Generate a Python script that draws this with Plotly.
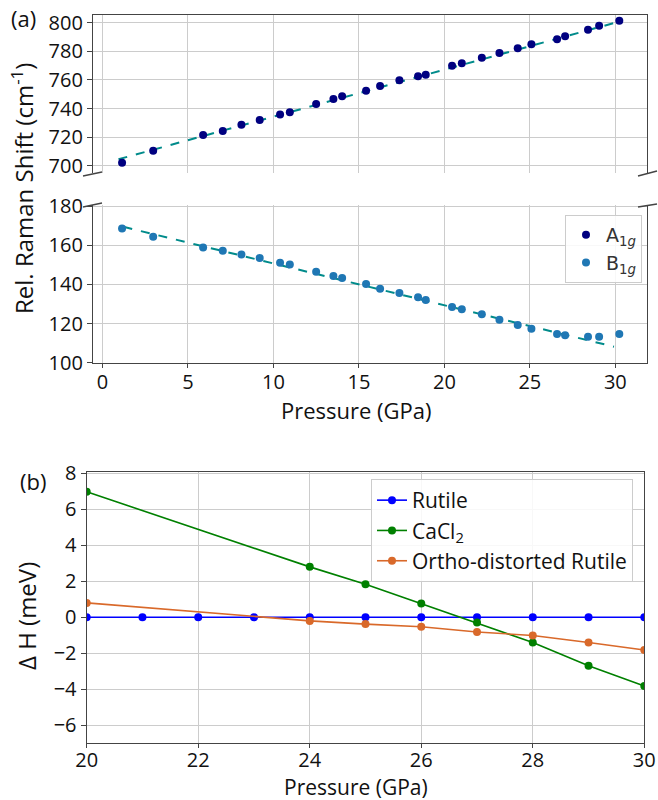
import plotly.graph_objects as go

# ---------------- data: panel (a) ----------------
pressure_a = [1.15, 2.97, 5.89, 7.04, 8.13, 9.2, 10.39, 10.96, 12.5, 13.51, 14.02,
              15.42, 16.24, 17.37, 18.46, 18.91, 20.45, 21.02, 22.19, 23.22, 24.29,
              25.09, 26.59, 27.06, 28.4, 29.05, 30.23]
a1g = [702.1, 710.5, 721.5, 724.3, 728.7, 732.0, 735.9, 737.3, 743.1, 746.6, 748.5,
       752.4, 755.7, 759.7, 762.5, 763.6, 769.9, 771.6, 775.5, 778.8, 782.1,
       784.9, 788.4, 790.5, 795.1, 797.9, 801.4]
b1g = [168.6, 164.3, 158.9, 157.2, 155.3, 153.5, 151.1, 150.1, 146.5, 144.3, 143.3,
       140.2, 137.8, 135.6, 133.4, 132.0, 128.5, 127.3, 124.7, 122.0, 119.3,
       117.4, 114.7, 114.0, 113.3, 113.3, 114.7]
fit_a_x = [0.94, 30.3]
fit_a_y = [704.5, 801.0]
fit_b_x = [1.23, 29.92]
fit_b_y = [169.4, 108.2]

# ---------------- data: panel (b) ----------------
pressure_rutile = [20, 21, 22, 23, 24, 25, 26, 27, 28, 29, 30]
rutile = [0, 0, 0, 0, 0, 0, 0, 0, 0, 0, 0]
pressure_b = [20, 24, 25, 26, 27, 28, 29, 30]
cacl2 = [6.97, 2.8, 1.84, 0.76, -0.29, -1.4, -2.69, -3.82]
ortho = [0.8, -0.2, -0.38, -0.53, -0.82, -1.01, -1.4, -1.82]

W, H = 658, 800
FONT = "Open Sans"
AX = "#444444"
GRID = "#cccccc"


def px(x):
    return x / W


def py(y):
    return 1 - y / H


fig = go.Figure()

# panel (a) top: A1g
fig.add_trace(go.Scatter(x=fit_a_x, y=fit_a_y, mode="lines",
                         line=dict(color="#008b8b", width=2, dash="dash"),
                         showlegend=False, xaxis="x", yaxis="y"))
fig.add_trace(go.Scatter(x=pressure_a, y=a1g, mode="markers", name="A<sub>1<i>g</i></sub>",
                         marker=dict(color="#000080", size=8),
                         xaxis="x", yaxis="y", legend="legend"))
# panel (a) bottom: B1g
fig.add_trace(go.Scatter(x=fit_b_x, y=fit_b_y, mode="lines",
                         line=dict(color="#008b8b", width=2, dash="dash"),
                         showlegend=False, xaxis="x2", yaxis="y2"))
fig.add_trace(go.Scatter(x=pressure_a, y=b1g, mode="markers", name="B<sub>1<i>g</i></sub>",
                         marker=dict(color="#1f77b4", size=8),
                         xaxis="x2", yaxis="y2", legend="legend"))

# panel (b)
fig.add_trace(go.Scatter(x=pressure_rutile, y=rutile, mode="lines+markers", name="Rutile",
                         line=dict(color="#0000ff", width=1.6), marker=dict(size=8),
                         xaxis="x3", yaxis="y3", legend="legend2"))
fig.add_trace(go.Scatter(x=pressure_b, y=cacl2, mode="lines+markers", name="CaCl<sub>2</sub>",
                         line=dict(color="#008000", width=1.6), marker=dict(size=8),
                         xaxis="x3", yaxis="y3", legend="legend2"))
fig.add_trace(go.Scatter(x=pressure_b, y=ortho, mode="lines+markers", name="Ortho-distorted Rutile",
                         line=dict(color="#d9692a", width=1.6), marker=dict(size=8),
                         xaxis="x3", yaxis="y3", legend="legend2"))

tickfont = dict(family=FONT, size=20, color="#111111")

common = dict(showgrid=True, gridcolor=GRID, gridwidth=1, zeroline=False, automargin=False,
              linecolor=AX, linewidth=1.3, tickfont=tickfont)

dom_a = [px(93), px(647)]
fig.update_layout(
    width=W, height=H,
    margin=dict(l=0, r=0, t=0, b=0, autoexpand=False),
    paper_bgcolor="white", plot_bgcolor="white",
    hovermode=False,
    font=dict(family=FONT, size=20, color="#111111"),
    xaxis=dict(domain=dom_a, anchor="y", range=[-0.55, 31.85], side="top",
               showline=True, ticks="", showticklabels=False,
               tickvals=[0, 5, 10, 15, 20, 25, 30], matches="x2", **common),
    yaxis=dict(domain=[py(173), py(15)], anchor="x", range=[694.9, 805.4],
               showline=True, mirror=True, ticks="outside", ticklen=5, tickcolor=AX,
               tickvals=[700, 720, 740, 760, 780, 800], **common),
    xaxis2=dict(domain=dom_a, anchor="y2", range=[-0.55, 31.85],
                showline=True, ticks="outside", ticklen=4, tickcolor=AX,
                ticklabelstandoff=-3,
                tickvals=[0, 5, 10, 15, 20, 25, 30], **common),
    yaxis2=dict(domain=[py(363.3), py(204.7)], anchor="x2", range=[99.7, 180.7],
                showline=True, mirror=True, ticks="outside", ticklen=5, tickcolor=AX,
                tickvals=[100, 120, 140, 160, 180], **common),
    xaxis3=dict(domain=[px(86.7), px(644.3)], anchor="y3", range=[20, 30],
                showline=True, mirror=True, ticks="outside", ticklen=4, tickcolor=AX,
                ticklabelstandoff=-5,
                tickvals=[20, 22, 24, 26, 28, 30], **common),
    yaxis3=dict(domain=[py(743.3), py(472)], anchor="x3", range=[-7, 8.07],
                showline=True, mirror=True, ticks="outside", ticklen=5, tickcolor=AX,
                tickvals=[-6, -4, -2, 0, 2, 4, 6, 8], **common),
    legend=dict(x=px(642), y=py(215), xanchor="right", yanchor="top",
                bgcolor="rgba(255,255,255,0.85)", bordercolor="#cccccc", borderwidth=1,
                itemwidth=30,
                font=dict(family="DejaVu Sans", size=19, color="#333333")),
    legend2=dict(x=px(371), y=py(479), xanchor="left", yanchor="top",
                 bgcolor="rgba(255,255,255,0.85)", bordercolor="#cccccc", borderwidth=1,
                 itemwidth=30,
                 font=dict(family=FONT, size=21, color="#111111")),
)

ann = []
ann.append(dict(text="Rel. Raman Shift (cm<sup>-1</sup>)", x=px(23), y=py(189), textangle=-90,
                font=dict(family=FONT, size=24)))
ann.append(dict(text="Pressure (GPa)", x=px(356), y=py(410), font=dict(family=FONT, size=22)))
ann.append(dict(text="Pressure (GPa)", x=px(356), y=py(787), font=dict(family=FONT, size=21)))
ann.append(dict(text="\u0394 H (meV)", x=px(26), y=py(616), textangle=-90,
                font=dict(family=FONT, size=24)))
ann.append(dict(text="(a)", x=px(23), y=py(18), font=dict(family=FONT, size=22)))
ann.append(dict(text="(b)", x=px(33), y=py(481), font=dict(family=FONT, size=22)))
for a in ann:
    a.update(xref="paper", yref="paper", showarrow=False, xanchor="center", yanchor="middle")
fig.update_layout(annotations=ann)

# axis-break marks
breaks = [((83, 176), (102, 172)), ((638, 176), (657, 171)),
          ((83, 207), (102, 203)), ((638, 207), (657, 204))]
for (x0, y0), (x1, y1) in breaks:
    fig.add_shape(type="line", xref="paper", yref="paper",
                  x0=px(x0), y0=py(y0), x1=px(x1), y1=py(y1),
                  line=dict(color=AX, width=1.5))

fig.write_html("out.html", config={"displayModeBar": False},
               post_script="document.body.style.margin='0';document.body.style.overflow='hidden';")
